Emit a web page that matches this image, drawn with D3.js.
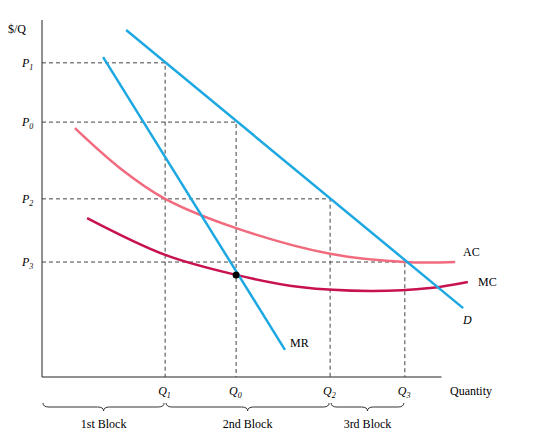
<!DOCTYPE html>
<html><head><meta charset="utf-8">
<script src="https://cdn.jsdelivr.net/npm/d3@7"></script>
<style>body{margin:0;background:#fff}svg{font-family:"Liberation Serif","DejaVu Serif",serif}</style>
</head><body><svg id="c" width="552" height="448"></svg>
<script>
// quantities and prices (chart units)
const qTicks = [["Q1", 26.2], ["Q0", 41.3], ["Q2", 61.3], ["Q3", 77.2]];
const pTicks = [["P1", 88], ["P0", 71.4], ["P2", 49.9], ["P3", 32.2]];
const demand = [[17.9, 97.2], [89.6, 19.3]];
const marginalRevenue = [[13, 89.6], [51.7, 7.6]];
const averageCost = [[7, 69.7], [16.6, 58.5], [26.2, 49.9], [41.3, 41.7], [61.3, 34.5], [77.2, 32.2], [87.9, 32.2]];
const marginalCost = [[9.6, 44.5], [26.2, 34.2], [41.3, 28.6], [54.9, 25.2], [69.8, 24.1], [82.6, 24.9], [90.6, 26.6]];
const blocks = [["1st Block", 0, 26.2], ["2nd Block", 26.2, 61.3], ["3rd Block", 61.3, 77.2]];

const svg = d3.select("#c");
const x = d3.scaleLinear().domain([0, 100]).range([42, 512]);
const y = d3.scaleLinear().domain([0, 100]).range([377, 20]);
const line = d3.line().x(d => x(d[0])).y(d => y(d[1]));
const curve = d3.line().x(d => x(d[0])).y(d => y(d[1])).curve(d3.curveCatmullRom);

// axes
svg.append("line").attr("x1", x(0)).attr("x2", x(0)).attr("y1", y(100)).attr("y2", y(0)).attr("stroke", "#222");
svg.append("line").attr("x1", x(0)).attr("x2", x(85)).attr("y1", y(0)).attr("y2", y(0)).attr("stroke", "#222");
svg.append("text").attr("x", 8).attr("y", 33).attr("font-size", 12).text("$/Q");
svg.append("text").attr("x", 450).attr("y", 395).attr("font-size", 12).text("Quantity");

// dashed guides
pTicks.forEach((p, i) => {
  const q = qTicks[i][1];
  svg.append("path").attr("d", `M${x(0)},${y(p[1])}H${x(q)}V${y(0)}`)
    .attr("fill", "none").attr("stroke", "#444").attr("stroke-dasharray", "4,3").attr("stroke-width", 1);
  svg.append("text").attr("x", 22).attr("y", y(p[1]) + 4).attr("font-size", 12).attr("font-style", "italic")
    .text(p[0][0]).append("tspan").attr("font-size", 8).attr("dy", 3).text(p[0].slice(1));
});
qTicks.forEach(q => {
  svg.append("text").attr("x", x(q[1]) - 7).attr("y", 395).attr("font-size", 12).attr("font-style", "italic")
    .text(q[0][0]).append("tspan").attr("font-size", 8).attr("dy", 3).text(q[0].slice(1));
});

// curves
svg.append("path").attr("d", curve(averageCost)).attr("fill", "none").attr("stroke", "#f26a7e").attr("stroke-width", 2.5);
svg.append("path").attr("d", curve(marginalCost)).attr("fill", "none").attr("stroke", "#c8124f").attr("stroke-width", 2.5);
svg.append("path").attr("d", line(demand)).attr("fill", "none").attr("stroke", "#1ea8e2").attr("stroke-width", 2.5);
svg.append("path").attr("d", line(marginalRevenue)).attr("fill", "none").attr("stroke", "#1ea8e2").attr("stroke-width", 2.5);
svg.append("circle").attr("cx", x(41.3)).attr("cy", y(28.6)).attr("r", 3.5).attr("fill", "#000");

svg.append("text").attr("x", 463).attr("y", 256).attr("font-size", 12).text("AC");
svg.append("text").attr("x", 478).attr("y", 286).attr("font-size", 12).text("MC");
svg.append("text").attr("x", 463).attr("y", 324).attr("font-size", 12).attr("font-style", "italic").text("D");
svg.append("text").attr("x", 290).attr("y", 347).attr("font-size", 12).text("MR");

// braces
blocks.forEach(b => {
  const a = x(b[1]) + 1, c = x(b[2]) - 1, m = (a + c) / 2, t = 403, h = 8;
  svg.append("path")
    .attr("d", `M${a},${t}Q${a},${t + h / 2} ${a + 6},${t + h / 2}H${m - 6}Q${m},${t + h / 2} ${m},${t + h}Q${m},${t + h / 2} ${m + 6},${t + h / 2}H${c - 6}Q${c},${t + h / 2} ${c},${t}`)
    .attr("fill", "none").attr("stroke", "#333");
  svg.append("text").attr("x", m).attr("y", 428).attr("text-anchor", "middle").attr("font-size", 12).text(b[0]);
});
</script></body></html>
